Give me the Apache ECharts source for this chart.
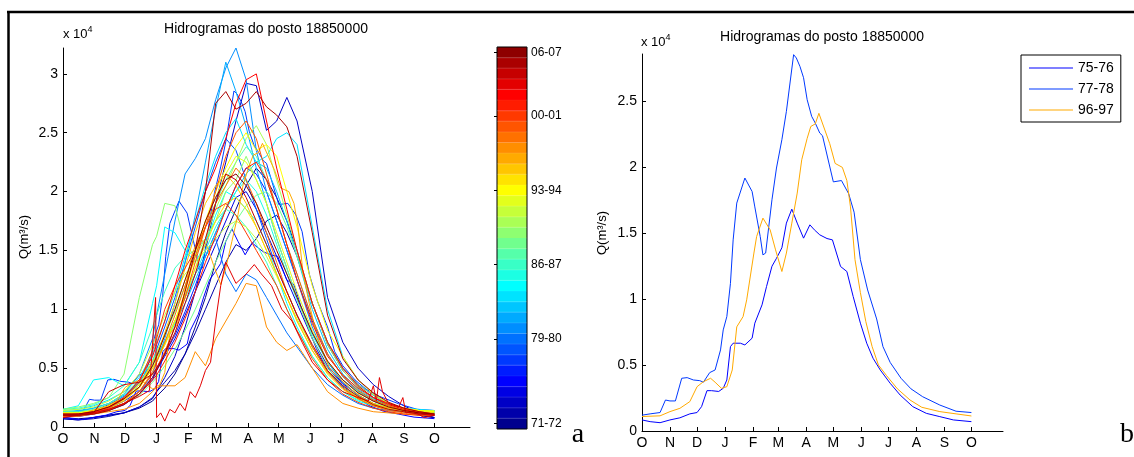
<!DOCTYPE html>
<html>
<head>
<meta charset="utf-8">
<script src="https://cdn.jsdelivr.net/npm/echarts@6/dist/echarts.min.js"></script>
<style>
  html, body { margin: 0; padding: 0; background: #fff; }
  #chart { width: 1134px; height: 457px; }
</style>
</head>
<body>
<div id="chart"></div>
<script>
// anos hidrologicos (out-set), 71-72 ... 06-07
const safras = ['71-72','72-73','73-74','74-75','75-76','76-77','77-78','78-79','79-80','80-81',
  '81-82','82-83','83-84','84-85','85-86','86-87','87-88','88-89','89-90','90-91',
  '91-92','92-93','93-94','94-95','95-96','96-97','97-98','98-99','99-00','00-01',
  '01-02','02-03','03-04','04-05','05-06','06-07'];
const rotulosBarra = ['71-72','79-80','86-87','93-94','00-01','06-07'];
const mesesDias = [0,31,61,92,123,151,182,212,243,273,304,335,365];
const mesesRotulos = ['O','N','D','J','F','M','A','M','J','J','A','S','O'];
const ticksEsq = [0,0.5,1,1.5,2,2.5,3];
const ticksDir = [0,0.5,1,1.5,2,2.5];

// vazoes em 10^4 m3/s, dias contados a partir de 1 de outubro
const dias = [0,15,30,45,60,75,88,92,100,110,120,130,140,150,160,170,180,190,200,210,220,230,245,260,275,290,305,320,335,350,365];

const q7172 = [0.08,0.07,0.08,0.1,0.12,0.16,0.22,0.26,0.33,0.45,0.62,0.85,1.1,1.4,1.65,1.85,2.05,2.2,2.1,1.95,1.75,1.5,1.05,0.7,0.48,0.34,0.25,0.18,0.13,0.1,0.08];
const q7273 = [0.07,0.06,0.07,0.09,0.12,0.17,0.25,0.3,0.38,0.48,0.62,0.8,1.0,1.2,1.4,1.55,1.5,1.6,1.75,1.8,1.65,1.45,1.05,0.72,0.5,0.36,0.27,0.2,0.14,0.1,0.08];
const q7374 = [0.07,0.06,0.08,0.1,0.12,0.17,0.24,0.3,0.42,0.6,0.85,1.15,1.5,1.9,2.25,2.6,2.92,2.9,2.52,2.6,2.8,2.6,2.0,1.1,0.72,0.5,0.36,0.26,0.18,0.12,0.08];
const q7475 = [0.09,0.09,0.11,0.14,0.19,0.28,0.4,0.48,0.6,0.75,0.95,1.15,1.35,1.55,1.75,1.95,2.0,1.85,1.65,1.45,1.25,1.05,0.75,0.52,0.37,0.27,0.2,0.16,0.13,0.11,0.1];
const q7677 = [0.1,0.1,0.12,0.16,0.22,0.3,0.42,0.5,0.62,0.78,0.98,1.2,1.45,1.65,1.85,2.05,2.2,2.15,2.0,1.75,1.5,1.25,0.9,0.62,0.43,0.3,0.22,0.17,0.14,0.12,0.11];
const q7879 = [0.11,0.12,0.14,0.19,0.26,0.38,0.55,0.66,0.85,1.1,1.4,1.7,2.0,2.25,2.45,2.35,2.1,1.85,1.6,1.35,1.15,0.95,0.68,0.47,0.34,0.25,0.19,0.15,0.13,0.12,0.11];
const q7980 = [0.12,0.12,0.14,0.18,0.25,0.36,0.52,0.6,0.72,0.9,1.1,1.3,1.45,1.6,1.3,1.15,1.3,1.25,1.1,0.95,0.8,0.68,0.5,0.36,0.27,0.2,0.16,0.14,0.13,0.12,0.12];
const q8081 = [0.12,0.13,0.16,0.2,0.28,0.45,0.75,0.95,1.3,1.75,2.15,2.28,2.45,2.78,3.05,3.22,2.95,2.35,2.0,1.75,1.5,1.25,0.85,0.55,0.38,0.27,0.2,0.16,0.14,0.12,0.11];
const q8182 = [0.1,0.1,0.12,0.15,0.2,0.3,0.45,0.55,0.75,1.05,1.4,1.8,2.25,2.7,3.1,2.85,2.55,2.2,1.9,1.6,1.35,1.1,0.8,0.55,0.38,0.27,0.2,0.16,0.13,0.12,0.11];
const q8283 = [0.13,0.14,0.16,0.2,0.27,0.38,0.55,0.62,0.72,0.88,1.05,1.25,1.45,1.65,1.85,2.0,2.15,2.25,2.2,2.0,1.75,1.45,1.0,0.66,0.45,0.32,0.24,0.18,0.15,0.14,0.13];
const q8384 = [0.14,0.15,0.18,0.23,0.3,0.42,0.62,0.72,0.9,1.15,1.45,1.75,2.05,2.3,2.5,2.62,2.4,2.25,2.3,2.45,2.5,2.4,1.7,1.0,0.6,0.4,0.28,0.2,0.16,0.15,0.14];
const q8485 = [0.15,0.18,0.4,0.42,0.35,0.55,1.05,1.2,1.7,1.65,1.5,1.4,1.55,1.8,2.0,1.95,1.85,1.75,1.55,1.3,1.05,0.85,0.6,0.42,0.3,0.22,0.18,0.15,0.14,0.13,0.12];
const q8586 = [0.12,0.12,0.14,0.18,0.24,0.34,0.5,0.56,0.7,0.88,1.1,1.3,1.5,1.7,1.85,2.0,2.1,2.0,1.8,1.55,1.3,1.08,0.78,0.55,0.4,0.3,0.23,0.18,0.15,0.13,0.12];
const q8687 = [0.15,0.16,0.19,0.25,0.35,0.55,0.85,0.95,1.15,1.35,1.45,1.5,1.6,1.75,1.85,1.8,1.7,1.55,1.4,1.2,1.0,0.82,0.6,0.42,0.3,0.23,0.19,0.16,0.15,0.14,0.14];
const q8788 = [0.13,0.13,0.15,0.2,0.28,0.4,0.57,0.64,0.78,0.98,1.2,1.45,1.7,1.9,2.1,2.25,2.38,2.3,2.1,1.85,1.55,1.3,0.92,0.62,0.43,0.31,0.23,0.18,0.15,0.14,0.13];
const q8889 = [0.11,0.11,0.13,0.16,0.2,0.27,0.38,0.42,0.52,0.66,0.82,1.0,1.2,1.4,1.58,1.75,1.88,1.97,2.0,1.9,1.7,1.45,1.05,0.72,0.5,0.36,0.27,0.2,0.16,0.14,0.13];
const q8990 = [0.15,0.17,0.2,0.25,0.45,1.1,1.55,1.62,1.9,1.88,1.55,1.45,1.6,1.75,2.0,2.1,2.3,2.1,1.9,1.6,1.35,1.1,0.75,0.5,0.35,0.25,0.2,0.16,0.15,0.14,0.13];
const q9091 = [0.12,0.12,0.14,0.18,0.25,0.36,0.52,0.58,0.72,0.9,1.12,1.35,1.6,1.85,2.05,2.25,2.45,2.56,2.4,2.1,1.8,1.5,1.05,0.7,0.48,0.34,0.25,0.19,0.16,0.14,0.13];
const q9192 = [0.14,0.15,0.17,0.22,0.3,0.45,0.7,0.78,0.95,1.15,1.3,1.4,1.5,1.6,1.7,1.75,1.7,1.6,1.45,1.28,1.1,0.92,0.68,0.48,0.35,0.26,0.2,0.17,0.15,0.14,0.14];
const q9293 = [0.12,0.12,0.14,0.18,0.25,0.36,0.55,0.62,0.78,1.0,1.25,1.5,1.75,1.95,2.15,2.3,2.25,2.1,1.9,1.65,1.4,1.15,0.82,0.56,0.4,0.29,0.22,0.18,0.15,0.14,0.13];
const q9394 = [0.12,0.12,0.14,0.18,0.24,0.34,0.5,0.56,0.7,0.9,1.15,1.45,1.75,2.0,2.2,2.38,2.5,2.35,2.4,2.3,2.0,1.7,1.2,0.82,0.6,0.4,0.28,0.2,0.16,0.14,0.13];
const q9495 = [0.11,0.11,0.13,0.17,0.23,0.33,0.5,0.55,0.7,0.9,1.1,1.35,1.55,1.75,1.9,1.95,1.85,1.7,1.5,1.3,1.1,0.9,0.65,0.46,0.33,0.25,0.19,0.16,0.14,0.13,0.12];
const q9596 = [0.1,0.1,0.12,0.16,0.22,0.34,0.55,0.6,0.8,1.05,1.35,1.65,1.9,2.05,2.15,2.05,1.9,1.7,1.5,1.3,1.1,0.9,0.65,0.45,0.32,0.24,0.18,0.15,0.13,0.12,0.11];
const q9798 = [0.1,0.1,0.11,0.13,0.15,0.2,0.3,0.35,0.35,0.35,0.42,0.64,0.52,0.75,0.9,1.05,1.22,1.2,0.85,0.72,0.65,0.7,0.5,0.3,0.2,0.16,0.13,0.12,0.11,0.1,0.1];
const q9899 = [0.09,0.09,0.11,0.14,0.2,0.3,0.47,0.55,0.72,0.95,1.2,1.45,1.7,1.9,2.05,2.2,2.1,1.9,1.65,1.4,1.15,0.95,0.68,0.47,0.33,0.24,0.18,0.14,0.12,0.11,0.1];
const q9900 = [0.1,0.1,0.12,0.15,0.2,0.3,0.45,0.5,0.64,0.85,1.1,1.4,1.7,2.0,2.3,2.5,2.6,2.45,2.15,1.85,1.55,1.3,0.92,0.62,0.43,0.31,0.23,0.18,0.14,0.12,0.11];
const q0001 = [0.1,0.1,0.12,0.16,0.24,0.38,0.65,0.75,1.0,1.2,1.35,1.5,1.7,1.85,1.9,1.8,1.65,1.5,1.35,1.2,1.0,0.82,0.58,0.4,0.28,0.21,0.16,0.13,0.11,0.1,0.1];
const q0102 = [0.11,0.11,0.12,0.15,0.2,0.28,0.4,0.44,0.56,0.72,0.92,1.15,1.4,1.62,1.85,2.05,2.2,2.25,2.1,1.85,1.55,1.25,0.88,0.6,0.44,0.33,0.25,0.2,0.16,0.13,0.11];
const q0203 = [0.1,0.11,0.13,0.17,0.25,0.4,0.6,0.7,0.9,1.2,1.5,1.75,2.0,2.2,2.45,2.75,2.95,3.0,2.6,2.2,1.85,1.5,1.05,0.72,0.5,0.35,0.25,0.19,0.15,0.12,0.1];
const q0405 = [0.1,0.1,0.12,0.3,0.36,0.38,0.45,0.5,0.62,0.8,1.05,1.3,1.6,1.9,2.15,2.1,1.95,1.75,1.55,1.35,1.15,0.95,0.7,0.48,0.35,0.26,0.19,0.15,0.13,0.11,0.1];
const q0506 = [0.1,0.1,0.11,0.14,0.19,0.28,0.42,0.48,0.62,0.85,1.15,1.5,2.0,2.75,2.85,2.7,2.75,2.85,2.72,2.65,2.55,2.3,1.65,0.95,0.58,0.4,0.29,0.21,0.16,0.13,0.11];
const q0607 = [0.11,0.11,0.13,0.17,0.24,0.34,0.52,0.6,0.78,1.0,1.25,1.5,1.75,1.95,2.1,2.15,2.05,1.9,1.7,1.5,1.3,1.1,0.8,0.56,0.4,0.29,0.22,0.17,0.14,0.12,0.11];

// 03-04 tem falha em janeiro e picos em agosto, lido em mais pontos
const d0304 = [0,15,30,45,60,75,85,91,92,96,100,105,110,115,120,125,130,135,140,145,150,155,160,170,180,188,195,205,215,225,235,245,260,275,290,300,305,308,311,314,320,330,334,337,345,355,365];
const q0304 = [0.08,0.1,0.12,0.15,0.2,0.26,0.31,1.1,0.08,0.12,0.05,0.15,0.12,0.2,0.14,0.3,0.25,0.35,0.48,0.55,0.9,1.2,1.4,1.22,1.3,1.38,1.3,1.2,1.0,0.9,0.72,0.55,0.4,0.3,0.25,0.22,0.35,0.22,0.42,0.3,0.2,0.17,0.25,0.12,0.13,0.08,0.1];

// anos em destaque (grafico b)
const d7576 = [0,9,20,31,42,53,61,66,72,77,85,90,94,98,101,109,114,122,125,133,138,144,149,155,160,166,172,179,186,191,197,205,211,220,227,234,242,249,256,264,275,286,300,315,330,345,365];
const q7576 = [0.084,0.071,0.063,0.084,0.10,0.13,0.14,0.185,0.306,0.306,0.30,0.324,0.387,0.64,0.666,0.666,0.653,0.704,0.818,0.957,1.096,1.25,1.31,1.39,1.577,1.683,1.577,1.463,1.564,1.526,1.488,1.46,1.45,1.248,1.21,1.02,0.818,0.666,0.552,0.463,0.362,0.273,0.185,0.134,0.109,0.084,0.071];
const d7778 = [0,9,20,26,31,37,44,50,57,64,68,75,81,87,90,94,98,101,105,114,122,125,131,134,137,144,149,155,160,164,168,171,175,179,183,188,192,197,200,212,221,229,235,242,250,260,267,275,287,298,311,330,348,365];
const q7778 = [0.12,0.13,0.14,0.235,0.228,0.228,0.40,0.405,0.387,0.382,0.37,0.443,0.463,0.615,0.767,0.868,1.12,1.45,1.729,1.919,1.817,1.70,1.475,1.336,1.35,1.754,1.995,2.21,2.425,2.64,2.855,2.83,2.766,2.68,2.513,2.387,2.336,2.26,2.24,1.89,1.9,1.8,1.66,1.3,1.07,0.85,0.64,0.52,0.4,0.32,0.26,0.197,0.15,0.14];
const d9697 = [0,20,31,42,53,61,68,76,81,88,94,100,105,112,116,124,127,134,142,148,155,160,166,172,177,183,187,192,196,208,214,222,227,231,236,242,248,255,262,271,283,297,310,330,348,365];
const q9697 = [0.11,0.115,0.147,0.172,0.223,0.336,0.374,0.40,0.37,0.324,0.336,0.463,0.79,0.868,0.995,1.35,1.475,1.615,1.526,1.374,1.21,1.35,1.577,1.805,2.058,2.22,2.31,2.33,2.41,2.18,2.03,2.0,1.9,1.7,1.3,1.05,0.83,0.64,0.5,0.42,0.32,0.235,0.18,0.147,0.13,0.114];

const vazoes = [q7172,q7273,q7374,q7475,q7576,q7677,q7778,q7879,q7980,q8081,
  q8182,q8283,q8384,q8485,q8586,q8687,q8788,q8889,q8990,q9091,
  q9192,q9293,q9394,q9495,q9596,q9697,q9798,q9899,q9900,q0001,
  q0102,q0203,q0304,q0405,q0506,q0607];
const diasPorAno = { '75-76': d7576, '77-78': d7778, '96-97': d9697, '03-04': d0304 };
const destaques = [['75-76', d7576, q7576], ['77-78', d7778, q7778], ['96-97', d9697, q9697]];

// colormap jet do matlab
function jet(m) {
  const n = Math.ceil(m / 4);
  const u = [];
  for (let i = 1; i <= n; i++) u.push(i / n);
  for (let i = 1; i < n; i++) u.push(1);
  for (let i = n; i >= 1; i--) u.push(i / n);
  const g0 = Math.ceil(n / 2) - (m % 4 === 1 ? 1 : 0);
  const J = [];
  for (let i = 0; i < m; i++) J.push([0, 0, 0]);
  const bs = [];
  u.forEach((val, k) => {
    const g = g0 + k + 1, r = g + n, b = g - n;
    if (r >= 1 && r <= m) J[r - 1][0] = val;
    if (g >= 1 && g <= m) J[g - 1][1] = val;
    if (b >= 1 && b <= m) bs.push(b);
  });
  bs.forEach((b, j) => { J[b - 1][2] = u[u.length - bs.length + j]; });
  return J.map(c => 'rgb(' + c.map(v => Math.round(v * 255)).join(',') + ')');
}
const cores = jet(safras.length);
const corDe = {};
safras.forEach((s, i) => { corDe[s] = cores[i]; });

const fonte = 'Liberation Sans, Arial, sans-serif';
const chart = echarts.init(document.getElementById('chart'));

function eixoX(grid) {
  return {
    type: 'value', gridIndex: grid, min: 0, max: 400,
    axisLine: { show: true, lineStyle: { color: '#000', width: 1 } },
    axisTick: { show: true, inside: true, length: 4, customValues: mesesDias, lineStyle: { color: '#000' } },
    axisLabel: { customValues: mesesDias, formatter: v => mesesRotulos[mesesDias.indexOf(v)],
      color: '#000', fontSize: 14, fontFamily: fonte, margin: 5 },
    splitLine: { show: false }
  };
}
function eixoY(grid, max, ticks) {
  return {
    type: 'value', gridIndex: grid, min: 0, max: max,
    axisLine: { show: true, lineStyle: { color: '#000', width: 1 } },
    axisTick: { show: true, inside: true, length: 4, customValues: ticks, lineStyle: { color: '#000' } },
    axisLabel: { customValues: ticks, formatter: v => String(v), color: '#000', fontSize: 14, fontFamily: fonte, margin: 5 },
    splitLine: { show: false }
  };
}
const marcaBarra = (idx) => rotulosBarra.indexOf(safras[idx]) >= 0;

const seriesEsq = vazoes.map((q, i) => {
  const d = diasPorAno[safras[i]] || dias;
  return {
    name: safras[i], type: 'line', xAxisIndex: 0, yAxisIndex: 0,
    data: q.map((v, k) => [d[k], v]),
    symbol: 'none', showSymbol: false, silent: true,
    lineStyle: { width: 1, color: cores[i] }, itemStyle: { color: cores[i] }
  };
});
const seriesDir = destaques.map(([nome, d, q]) => ({
  name: nome, type: 'line', xAxisIndex: 2, yAxisIndex: 3,
  data: q.map((v, k) => [d[k], v]),
  symbol: 'none', showSymbol: false, silent: true,
  lineStyle: { width: 1, color: corDe[nome] }, itemStyle: { color: corDe[nome] }
}));
const barra = {
  type: 'bar', xAxisIndex: 1, yAxisIndex: 1, barCategoryGap: '0%', silent: true,
  data: safras.map((s, i) => ({ value: 1, itemStyle: { color: cores[i], borderColor: cores[i], borderWidth: 1 } }))
};

const option = {
  animation: false,
  backgroundColor: '#fff',
  grid: [
    { left: 63, top: 48, width: 407, height: 379 },
    { left: 497, top: 47, width: 30, height: 382 },
    { left: 642, top: 54, width: 361, height: 377 }
  ],
  xAxis: [
    eixoX(0),
    { type: 'value', gridIndex: 1, min: 0, max: 1, show: false },
    eixoX(2)
  ],
  yAxis: [
    eixoY(0, 3.22, ticksEsq),
    { type: 'category', gridIndex: 1, data: safras, position: 'right',
      axisLine: { show: false },
      axisTick: { show: true, inside: true, length: 3, alignWithLabel: true, interval: marcaBarra, lineStyle: { color: '#000' } },
      axisLabel: { interval: marcaBarra, color: '#000', fontSize: 12, fontFamily: fonte, margin: 4 } },
    { type: 'category', gridIndex: 1, data: safras, position: 'left',
      axisLine: { show: false }, axisLabel: { show: false },
      axisTick: { show: true, inside: true, length: 3, alignWithLabel: true, interval: marcaBarra, lineStyle: { color: '#000' } } },
    eixoY(2, 2.86, ticksDir)
  ],
  legend: {
    data: destaques.map(d => d[0]), orient: 'vertical', left: 1021, top: 55,
    icon: 'rect', itemWidth: 44, itemHeight: 1, itemGap: 7, selectedMode: false,
    textStyle: { color: '#000', fontSize: 14, fontFamily: fonte, lineHeight: 14 },
    backgroundColor: '#fff', borderColor: '#000', borderWidth: 1, padding: [6, 7, 5, 8]
  },
  series: [...seriesEsq, barra, ...seriesDir],
  graphic: [
    { type: 'line', shape: { x1: 7, y1: 12, x2: 1134, y2: 12 }, style: { stroke: '#000', lineWidth: 2.5 } },
    { type: 'line', shape: { x1: 8.5, y1: 11, x2: 8.5, y2: 457 }, style: { stroke: '#000', lineWidth: 2.5 } },
    { type: 'rect', shape: { x: 497, y: 47, width: 30, height: 382 }, style: { fill: 'none', stroke: '#000', lineWidth: 1 }, z: 10 },
    { type: 'text', x: 266, y: 29, style: { text: 'Hidrogramas do posto 18850000', font: '14px ' + fonte, fill: '#000', align: 'center', verticalAlign: 'middle' } },
    { type: 'text', x: 822, y: 37, style: { text: 'Hidrogramas do posto 18850000', font: '14px ' + fonte, fill: '#000', align: 'center', verticalAlign: 'middle' } },
    { type: 'text', x: 63, y: 34, style: { text: 'x 10{s|4}', font: '13px ' + fonte, fill: '#000', align: 'left', verticalAlign: 'middle',
      rich: { s: { fontSize: 9, fontFamily: fonte, verticalAlign: 'top', padding: [0, 0, 8, 0] } } } },
    { type: 'text', x: 641, y: 42, style: { text: 'x 10{s|4}', font: '13px ' + fonte, fill: '#000', align: 'left', verticalAlign: 'middle',
      rich: { s: { fontSize: 9, fontFamily: fonte, verticalAlign: 'top', padding: [0, 0, 8, 0] } } } },
    { type: 'text', x: 24, y: 237, rotation: Math.PI / 2, style: { text: 'Q(m³/s)', font: '13px ' + fonte, fill: '#000', align: 'center', verticalAlign: 'middle' } },
    { type: 'text', x: 602, y: 233, rotation: Math.PI / 2, style: { text: 'Q(m³/s)', font: '13px ' + fonte, fill: '#000', align: 'center', verticalAlign: 'middle' } },
    { type: 'text', x: 578, y: 449, style: { text: 'a', font: '28px Liberation Serif, serif', fill: '#000', align: 'center', verticalAlign: 'bottom' } },
    { type: 'text', x: 1127, y: 449, style: { text: 'b', font: '28px Liberation Serif, serif', fill: '#000', align: 'center', verticalAlign: 'bottom' } }
  ]
};
chart.setOption(option);
</script>
</body>
</html>
